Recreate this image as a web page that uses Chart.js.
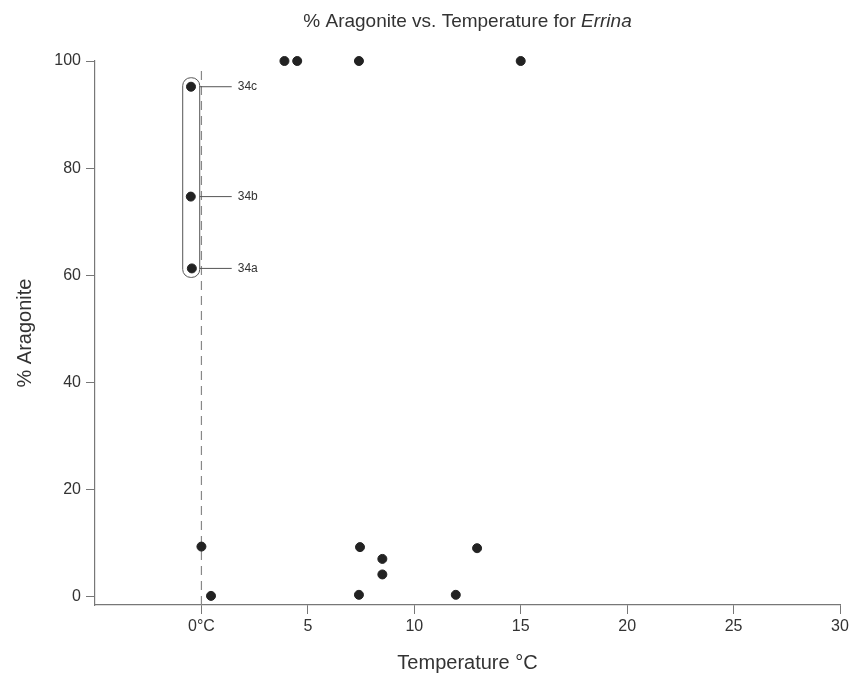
<!DOCTYPE html>
<html>
<head>
<meta charset="utf-8">
<script src="https://cdn.jsdelivr.net/npm/chart.js@4"></script>
<style>
  html, body { margin: 0; padding: 0; background: #fff; }
  #wrap { width: 855px; height: 681px; }
</style>
</head>
<body>
<div id="wrap"><canvas id="chart" width="855" height="681"></canvas></div>
<script>
// ==== Data ====
const tempC     = [3.9, 4.5, 7.4, 15, 0, 0.45, 7.45, 8.5, 8.5, 7.4, 11.95, 12.95];
const aragonite = [100, 100, 100, 100, 9.4, 0.2, 9.3, 7.1, 4.2, 0.4, 0.4, 9.1];

// specimen 34 (circled group)
const groupLabels = ["34a", "34b", "34c"];
const groupTemp   = [-0.45, -0.5, -0.49];
const groupArag   = [61.3, 74.7, 95.2];

const xTicks = [0, 5, 10, 15, 20, 25, 30];
const yTicks = [0, 20, 40, 60, 80, 100];

const titleMain = "% Aragonite vs. Temperature for ";
const titleItalic = "Errina";

const FONT = "'Liberation Sans', Arial, sans-serif";
const TEXT = "#333";
const AXIS = "#777";

// ==== Plugins ====
const titlePlugin = {
  id: "mixedTitle",
  afterDraw(chart) {
    const ctx = chart.ctx;
    const { left, right } = chart.chartArea;
    ctx.save();
    ctx.fillStyle = TEXT;
    ctx.textBaseline = "middle";
    ctx.font = "19px " + FONT;
    const w1 = ctx.measureText(titleMain).width;
    ctx.font = "italic 19px " + FONT;
    const w2 = ctx.measureText(titleItalic).width;
    const x0 = (left + right) / 2 - (w1 + w2) / 2;
    ctx.font = "19px " + FONT;
    ctx.textAlign = "left";
    ctx.fillText(titleMain, x0, 22);
    ctx.font = "italic 19px " + FONT;
    ctx.fillText(titleItalic, x0 + w1, 22);
    ctx.restore();
  }
};

const groupPlugin = {
  id: "groupBox",
  afterDatasetsDraw(chart) {
    const ctx = chart.ctx;
    const xs = chart.scales.x, ys = chart.scales.y;
    const px = groupTemp.map(v => xs.getPixelForValue(v));
    const py = groupArag.map(v => ys.getPixelForValue(v));
    const cx = px.reduce((a, b) => a + b, 0) / px.length;
    const top = Math.min(...py) - 9;
    const bot = Math.max(...py) + 9;
    const left = cx - 8.5, right = cx + 8.5;
    ctx.save();
    ctx.strokeStyle = "#555";
    ctx.lineWidth = 1;
    ctx.beginPath();
    ctx.roundRect(left, top, right - left, bot - top, 8);
    ctx.stroke();
    ctx.font = "12px " + FONT;
    ctx.fillStyle = TEXT;
    ctx.textBaseline = "middle";
    ctx.textAlign = "left";
    groupLabels.forEach((lab, i) => {
      ctx.beginPath();
      ctx.moveTo(right, py[i]);
      ctx.lineTo(right + 32, py[i]);
      ctx.stroke();
      ctx.fillText(lab, right + 38, py[i]);
    });
    ctx.restore();
  }
};

// ==== Chart ====
const ctx = document.getElementById("chart").getContext("2d");
new Chart(ctx, {
  type: "scatter",
  data: {
    datasets: [
      {
        label: "Errina",
        data: tempC.map((t, i) => ({ x: t, y: aragonite[i] })),
        backgroundColor: "#222",
        borderColor: "#222",
        pointRadius: 4.5,
        pointHoverRadius: 4.5,
        clip: false
      },
      {
        label: "34",
        data: groupTemp.map((t, i) => ({ x: t, y: groupArag[i] })),
        backgroundColor: "#222",
        borderColor: "#222",
        pointRadius: 4.5,
        pointHoverRadius: 4.5,
        clip: false
      },
      {
        label: "0°C",
        type: "line",
        data: [{ x: 0, y: -1.5 }, { x: 0, y: 99 }],
        borderColor: "#888",
        borderWidth: 1.2,
        borderDash: [9, 6],
        pointRadius: 0,
        fill: false
      }
    ]
  },
  options: {
    responsive: false,
    animation: false,
    layout: { padding: { left: 0, right: 15, top: 61, bottom: 0 } },
    plugins: {
      legend: { display: false },
      tooltip: { enabled: false },
      title: { display: false }
    },
    scales: {
      x: {
        type: "linear",
        min: -5,
        max: 30,
        afterBuildTicks: s => { s.ticks = xTicks.map(v => ({ value: v })); },
        afterFit: s => { s.height = 76; },
        ticks: {
          color: TEXT,
          font: { family: FONT, size: 16 },
          padding: 3,
          maxRotation: 0,
          callback: v => (v === 0 ? "0°C" : String(v))
        },
        grid: { drawOnChartArea: false, drawTicks: true, tickLength: 9, color: AXIS },
        border: { display: true, color: AXIS, width: 1.2 },
        title: {
          display: true,
          text: "Temperature °C",
          color: TEXT,
          font: { family: FONT, size: 20 },
          padding: { top: 4, bottom: 6 }
        }
      },
      y: {
        type: "linear",
        min: -1.5,
        max: 100,
        afterBuildTicks: s => { s.ticks = yTicks.map(v => ({ value: v })); },
        afterFit: s => { s.width = 95; },
        ticks: {
          color: TEXT,
          font: { family: FONT, size: 16 },
          padding: 5
        },
        grid: { drawOnChartArea: false, drawTicks: true, tickLength: 9, color: AXIS },
        border: { display: true, color: AXIS, width: 1.2 },
        title: {
          display: true,
          text: "% Aragonite",
          color: TEXT,
          font: { family: FONT, size: 20 },
          padding: { top: 13, bottom: 10 }
        }
      }
    }
  },
  plugins: [titlePlugin, groupPlugin]
});
</script>
</body>
</html>
